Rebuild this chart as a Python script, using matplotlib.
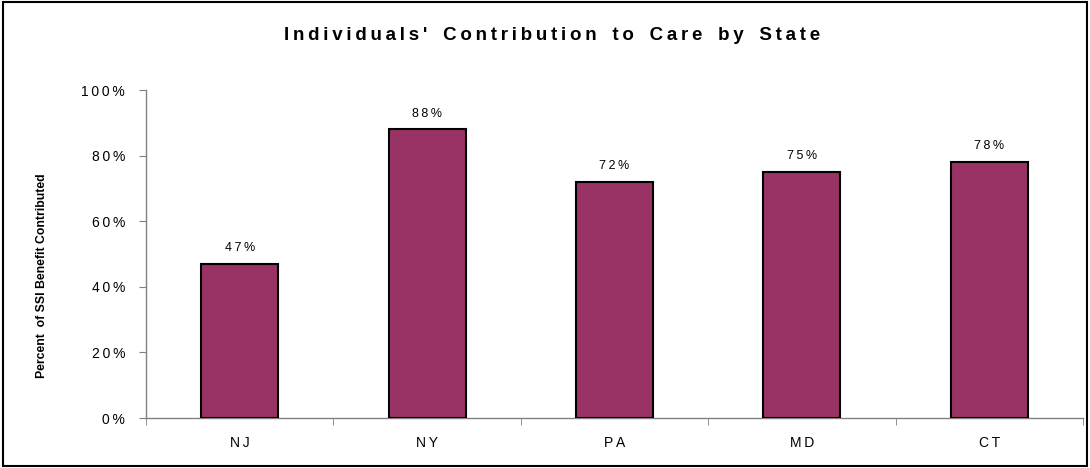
import matplotlib.pyplot as plt
import numpy as np

plt.rcParams['font.family'] = ['Liberation Sans', 'DejaVu Sans']

states = ['NJ', 'NY', 'PA', 'MD', 'CT']
values = [47, 88, 72, 75, 78]
yticks = [0, 20, 40, 60, 80, 100]
title = "Individuals' Contribution to Care by State"
ylabel = 'Percent  of SSI Benefit Contributed'

SP = '\u2009'


def spaced(s, sep=SP):
    return sep.join(s)


fig = plt.figure(figsize=(10.9, 4.68), dpi=100)
ax = fig.add_axes([146 / 1090, 1 - 418 / 468, (1083 - 146) / 1090, (418 - 90) / 468])

x = np.arange(len(states))
ax.bar(x, values, width=0.41, color='#993366', edgecolor='black', linewidth=1.5, zorder=3)
for xi, v in zip(x, values):
    ax.text(xi, v + 3, spaced(f'{v}%'), ha='center', va='bottom', fontsize=9)

ax.set_xlim(-0.5, len(states) - 0.5)
ax.set_ylim(0, 100)
ax.set_yticks(yticks)
ax.set_yticklabels([spaced(f'{t}%') for t in yticks], fontsize=10)
ax.set_xticks(x)
ax.set_xticklabels([spaced(s) for s in states], fontsize=10)
ax.tick_params(axis='x', length=0, pad=13)
ax.set_xticks(np.arange(len(states) + 1) - 0.5, minor=True)
ax.tick_params(axis='x', which='minor', length=5, color='#808080', direction='out')
ax.tick_params(axis='y', length=5, color='#808080', direction='out', pad=10)

for side in ['top', 'right']:
    ax.spines[side].set_visible(False)
for side in ['left', 'bottom']:
    ax.spines[side].set_color('#808080')
    ax.spines[side].set_linewidth(1)

fig.text(42 / 1090, 1 - 276 / 468, ylabel, rotation=90, ha='center', va='center',
         fontsize=8.8, fontweight='bold')
title_txt = '   '.join(spaced(w) for w in title.split(' '))
fig.text(552 / 1090, 1 - 35 / 468, title_txt,
         ha='center', va='center', fontsize=13.5, fontweight='bold')

fig.patches.append(plt.Rectangle((0.003, 0.005), 0.994, 0.99, transform=fig.transFigure,
                                 fill=False, edgecolor='black', linewidth=1.5))

fig.savefig('out.png', dpi=100)
